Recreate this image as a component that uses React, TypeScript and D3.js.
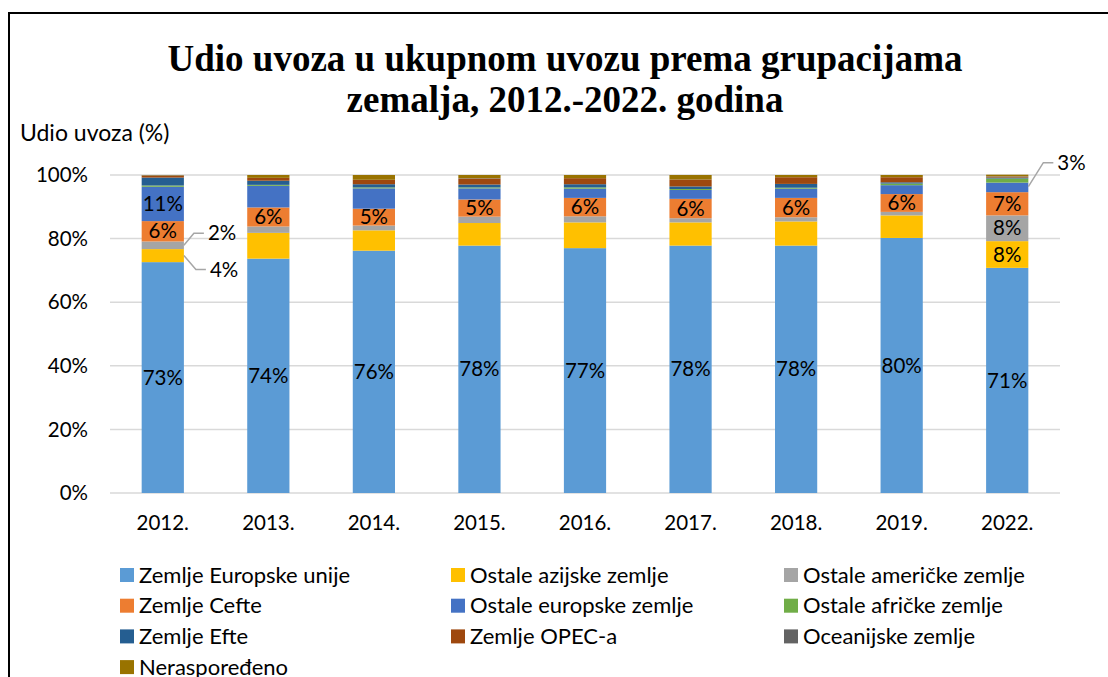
import React from "react";
import * as d3 from "d3";

const years = ["2012.", "2013.", "2014.", "2015.", "2016.", "2017.", "2018.", "2019.", "2022."];
const seriesNames = [
  "Zemlje Europske unije",
  "Ostale azijske zemlje",
  "Ostale američke zemlje",
  "Zemlje Cefte",
  "Ostale europske zemlje",
  "Ostale afričke zemlje",
  "Zemlje Efte",
  "Zemlje OPEC-a",
  "Oceanijske zemlje",
  "Neraspoređeno",
];
const seriesColors = ["#5b9bd5", "#ffc000", "#a5a5a5", "#ed7d31", "#4472c4", "#70ad47", "#255e91", "#9e480e", "#636363", "#997300"];

const euValues = [72.6, 73.7, 76.2, 77.8, 77.0, 77.8, 77.8, 80.2, 70.8];
const asiaValues = [4.1, 8.1, 6.4, 7.1, 8.1, 7.3, 7.6, 7.1, 8.4];
const americaValues = [2.4, 2.0, 1.5, 2.0, 1.9, 1.3, 1.3, 1.1, 8.1];
const cefteValues = [6.4, 6.0, 5.3, 5.4, 5.8, 6.1, 6.1, 5.6, 7.3];
const otherEuropeValues = [10.8, 6.8, 6.4, 3.5, 2.9, 2.8, 2.9, 2.8, 3.0];
const africaValues = [0.4, 0.3, 0.3, 0.3, 0.4, 0.3, 0.3, 0.5, 1.3];
const efteValues = [2.5, 1.3, 1.0, 0.9, 1.0, 0.8, 1.2, 0.4, 0.3];
const opecValues = [0.6, 0.9, 1.4, 1.9, 1.9, 2.2, 2.1, 1.6, 0.3];
const oceaniaValues = [0.1, 0.0, 0.0, 0.1, 0.0, 0.0, 0.0, 0.0, 0.1];
const unassignedValues = [0.1, 0.9, 1.5, 1.0, 1.0, 1.4, 0.7, 0.7, 0.5];

const seriesValues = [euValues, asiaValues, americaValues, cefteValues, otherEuropeValues, africaValues, efteValues, opecValues, oceaniaValues, unassignedValues];

const yTicks = [0, 20, 40, 60, 80, 100];

// labels shown inside segments: [seriesIndex, yearIndex]
const insideLabels: [number, number][] = [
  ...years.map((_, i) => [0, i] as [number, number]),
  ...years.map((_, i) => [3, i] as [number, number]),
  [4, 0],
  [1, 8],
  [2, 8],
];
// callout labels: [seriesIndex, yearIndex, direction]
const calloutLabels: [number, number, string][] = [
  [2, 0, "up"],
  [1, 0, "down"],
  [4, 8, "up3"],
];

const W = 1108;
const H = 677;
const margin = { left: 110, right: 48, top: 175, bottom: 184 };
const font = "Lato, 'Open Sans', sans-serif";

export default function App() {
  const x = d3.scaleBand<string>().domain(years).range([margin.left, W - margin.right]).paddingInner(0.6).paddingOuter(0.3);
  const y = d3.scaleLinear().domain([0, 100]).range([H - margin.bottom, margin.top]);

  const rows = years.map((yr, i) => {
    const r: any = { year: yr };
    seriesNames.forEach((s, k) => (r[s] = seriesValues[k][i]));
    return r;
  });
  const stacked = d3.stack<any>().keys(seriesNames)(rows);

  const bw = x.bandwidth();

  return (
    <div style={{ position: "absolute", left: 0, top: 0 }}>
      <svg width={W} height={H} style={{ display: "block", background: "#fff" }}>
        <path d={`M9,${H} L9,13 L${W},13`} fill="none" stroke="#000" strokeWidth={2} />
        <text x={565} y={71} textAnchor="middle" fontFamily="'Liberation Serif', 'Times New Roman', serif" fontWeight="bold" fontSize={37}>
          Udio uvoza u ukupnom uvozu prema grupacijama
        </text>
        <text x={565} y={112} textAnchor="middle" fontFamily="'Liberation Serif', 'Times New Roman', serif" fontWeight="bold" fontSize={37}>
          zemalja, 2012.-2022. godina
        </text>
        <text x={20} y={133} dy="0.35em" fontFamily={font} fontSize={23} fill="#000">Udio uvoza (%)</text>

        {yTicks.map((t) => (
          <g key={t}>
            <line x1={margin.left} x2={W - margin.right} y1={y(t)} y2={y(t)} stroke="#d9d9d9" strokeWidth={1.5} />
            <text x={88} y={y(t)} dy="0.35em" textAnchor="end" fontFamily={font} fontSize={20.5}>{t}%</text>
          </g>
        ))}

        {stacked.map((layer, k) => (
          <g key={layer.key} fill={seriesColors[k]}>
            {layer.map((d, i) => (
              <rect key={i} x={x(years[i])} width={bw} y={y(d[1])} height={Math.max(0, y(d[0]) - y(d[1]))} />
            ))}
          </g>
        ))}

        {insideLabels.map(([k, i]) => {
          const d = stacked[k][i];
          return (
            <text key={`l${k}-${i}`} x={(x(years[i]) as number) + bw / 2} y={(y(d[0]) + y(d[1])) / 2} dy="0.35em" textAnchor="middle" fontFamily={font} fontSize={20.5} fill="#000">
              {Math.round(seriesValues[k][i])}%
            </text>
          );
        })}

        {calloutLabels.map(([k, i, dir]) => {
          const d = stacked[k][i];
          const x0 = (x(years[i]) as number) + bw;
          const ym = (y(d[0]) + y(d[1])) / 2;
          let ty: number;
          let sx: number;
          if (dir === "up") { ty = ym - 12; sx = 10; }
          else if (dir === "down") { ty = ym + 14; sx = 12; }
          else { ty = y(d[1]) - 20; sx = 15; }
          const sy = dir === "up3" ? y(d[1]) + 4 : ym;
          return (
            <g key={`c${k}-${i}`}>
              <path d={`M${x0},${sy} L${x0 + sx},${ty} L${x0 + sx + 10},${ty}`} fill="none" stroke="#a6a6a6" strokeWidth={1.5} />
              <text x={x0 + sx + 14} y={ty} dy="0.35em" fontFamily={font} fontSize={20.5}>{Math.round(seriesValues[k][i])}%</text>
            </g>
          );
        })}

        {years.map((yr) => (
          <text key={yr} x={(x(yr) as number) + bw / 2} y={523} dy="0.35em" textAnchor="middle" fontFamily={font} fontSize={20.5}>{yr}</text>
        ))}

        {seriesNames.map((s, k) => {
          const col = k % 3;
          const row = Math.floor(k / 3);
          const lx = [120, 451, 784][col];
          const ly = 575 + row * 30.7;
          return (
            <g key={s}>
              <rect x={lx} y={ly - 7} width={14} height={14} fill={seriesColors[k]} />
              <text x={lx + 19} y={ly} dy="0.35em" fontFamily={font} fontSize={22}>{s}</text>
            </g>
          );
        })}
      </svg>
    </div>
  );
}
